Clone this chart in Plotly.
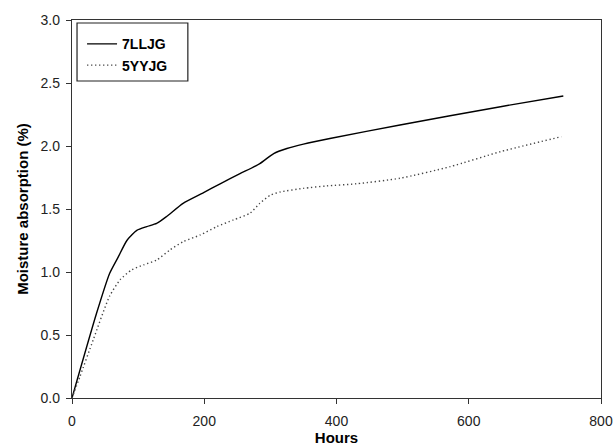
import plotly.graph_objects as go

# 7LLJG (solid)
hours_7 = [0, 37, 57, 70, 83, 98, 113, 128, 143, 168, 199, 224, 254, 284, 305, 325, 350, 390, 496, 648, 743]
moist_7 = [0, 0.67, 0.99, 1.12, 1.25, 1.33, 1.36, 1.385, 1.44, 1.545, 1.63, 1.70, 1.78, 1.86, 1.94, 1.98, 2.015, 2.06, 2.167, 2.312, 2.397]

# 5YYJG (dotted)
hours_5 = [0, 12, 32, 57, 73, 90, 108, 128, 148, 168, 194, 219, 244, 269, 284, 300, 315, 350, 385, 430, 496, 572, 648, 740]
moist_5 = [0, 0.17, 0.46, 0.81, 0.94, 1.016, 1.056, 1.095, 1.175, 1.24, 1.294, 1.36, 1.413, 1.466, 1.545, 1.61, 1.635, 1.664, 1.683, 1.70, 1.744, 1.836, 1.955, 2.074]

x_ticks = [0, 200, 400, 600, 800]
y_ticks = [0.0, 0.5, 1.0, 1.5, 2.0, 2.5, 3.0]

FONT = "Liberation Sans, Arial, sans-serif"

fig = go.Figure()
fig.add_trace(go.Scatter(x=hours_7, y=moist_7, mode="lines", name="<b>7LLJG</b>",
                         line=dict(color="black", width=1.4, shape="spline", smoothing=0.6)))
fig.add_trace(go.Scatter(x=hours_5, y=moist_5, mode="lines", name="<b>5YYJG</b>",
                         line=dict(color="#444444", width=1.4, dash="1.3px,2.7px",
                                   shape="spline", smoothing=0.6)))

axis_common = dict(showgrid=False, zeroline=False, showline=True, mirror=True,
                   linecolor="#333333", linewidth=1.3, ticks="outside", ticklen=5,
                   tickcolor="#333333", tickwidth=1, automargin=False,
                   tickfont=dict(family=FONT, size=14, color="#222222"))

fig.update_xaxes(range=[0, 800], tickvals=x_ticks, ticklabelstandoff=5, **axis_common,
                 title=dict(text="<b>Hours</b>", standoff=1,
                            font=dict(family=FONT, size=15, color="black")))
fig.update_yaxes(range=[0, 3.0], tickvals=y_ticks, tickformat=".1f", ticklabelstandoff=3,
                 **axis_common,
                 title=dict(text="<b>Moisture absorption (%)</b>", standoff=8,
                            font=dict(family=FONT, size=15, color="black")))

# legend frame (paper coordinates relative to plot area)
fig.add_shape(type="rect", xref="paper", yref="paper",
              x0=0.0095, x1=0.219, y0=0.8386, y1=0.9921,
              line=dict(color="#222222", width=1.2), fillcolor="white", layer="above")

fig.update_layout(
    width=613, height=447,
    margin=dict(l=72, r=12, t=20, b=49, autoexpand=False),
    plot_bgcolor="white", paper_bgcolor="white",
    showlegend=True,
    legend=dict(x=0.019, y=0.978, xanchor="left", yanchor="top",
                borderwidth=0, bgcolor="rgba(0,0,0,0)",
                font=dict(family=FONT, size=14, color="black"),
                tracegroupgap=0, itemwidth=30),
)

fig.write_html("out.html")
